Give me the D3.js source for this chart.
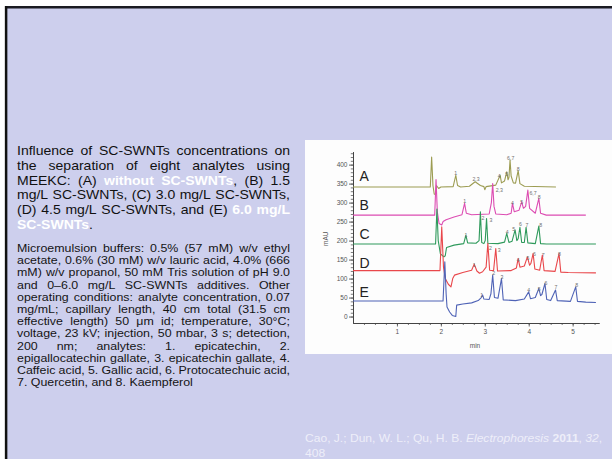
<!DOCTYPE html>
<html>
<head>
<meta charset="utf-8">
<script src="https://cdn.jsdelivr.net/npm/d3@7"></script>
<style>
  body { margin: 0; background: #fff; }
  svg { display: block; }
  text { font-family: "Liberation Sans", Arial, sans-serif; }
</style>
</head>
<body>
<svg id="slide" width="612" height="459"></svg>
<script>
//Chromatogram traces, [time (min), signal (mAU)]
const traceA = [[0,341],[1.76,341],[1.79,420],[1.82,345],[1.85,322],[1.88,322],[1.90,345],[1.95,337],[2.0,341],[2.28,342],[2.34,372],[2.38,345],[2.45,341],[2.65,343],[2.78,355],[2.9,345],[2.98,342],[3.0,334],[3.03,342],[3.25,346],[3.35,372],[3.38,352],[3.45,357],[3.5,381],[3.53,360],[3.55,366],[3.575,412],[3.6,370],[3.65,352],[3.7,351],[3.76,384],[3.8,350],[3.9,343],[4.62,341]];
const traceB = [[0,267],[1.86,267],[1.89,361],[1.92,275],[1.96,245],[2.02,241],[2.05,250],[2.12,255],[2.3,262],[2.48,268],[2.54,298],[2.58,272],[2.7,268],[3.1,270],[3.15,300],[3.18,350],[3.21,290],[3.25,270],[3.5,268],[3.6,272],[3.63,298],[3.67,276],[3.78,280],[3.84,302],[3.88,285],[3.93,290],[3.98,333],[4.02,285],[4.15,272],[4.23,311],[4.27,272],[4.4,267],[5.3,267]];
const traceC = [[0,191],[1.88,191],[1.91,283],[1.94,200],[1.99,165],[2.07,157],[2.10,160],[2.13,182],[2.3,188],[2.52,192],[2.57,214],[2.61,194],[2.8,193],[2.87,200],[2.9,276],[2.93,195],[2.98,192],[3.01,200],[3.04,258],[3.07,193],[3.3,192],[3.45,196],[3.5,219],[3.55,195],[3.62,198],[3.69,228],[3.73,200],[3.76,205],[3.80,235],[3.84,195],[3.9,195],[3.94,235],[3.98,194],[4.15,192],[4.23,238],[4.27,192],[4.4,191],[5.53,191]];
const traceD = [[0,121],[1.98,121],[2.02,236],[2.06,130],[2.10,100],[2.17,85],[2.23,78],[2.27,100],[2.31,109],[2.5,116],[2.7,122],[2.76,138],[2.82,120],[2.88,114],[2.95,118],[3.03,130],[3.07,193],[3.11,122],[3.2,121],[3.25,179],[3.29,120],[3.6,121],[3.72,128],[3.76,153],[3.8,130],[3.9,133],[3.97,157],[4.02,135],[4.05,140],[4.10,166],[4.14,125],[4.25,122],[4.31,162],[4.35,121],[4.6,119],[4.69,166],[4.73,117],[4.9,116],[5.53,115]];
const traceE = [[0,41],[2.05,41],[2.09,144],[2.12,60],[2.14,25],[2.2,12],[2.26,3],[2.34,0],[2.36,30],[2.5,33],[2.7,36],[2.85,42],[2.92,50],[2.95,57],[2.98,46],[3.1,45],[3.14,60],[3.18,109],[3.22,50],[3.3,48],[3.38,100],[3.42,44],[3.7,42],[3.9,46],[4.0,65],[4.04,47],[4.15,50],[4.23,74],[4.27,55],[4.3,58],[4.37,87],[4.41,45],[4.5,42],[4.61,70],[4.65,42],[4.95,40],[5.07,78],[5.11,40],[5.3,38],[5.53,37]];

const traceNames = ["A", "B", "C", "D", "E"];
const traceNameY = [357, 280, 204, 129, 52];

//Peak numbers: [time, mAU, label]
const peaksA = [[2.34,378,"1"],[2.80,361,"2,3"],[3.33,370,"4"],[3.50,376,"5"],[3.59,416,"6,7"],[3.76,388,"8"]];
const peaksB = [[2.54,303,"1"],[3.33,333,"2,3"],[3.63,298,"4"],[3.84,302,"5"],[4.10,325,"6,7"],[4.24,314,"8"]];
const peaksC = [[2.57,214,"1"],[2.96,258,"2"],[3.14,254,"3"],[3.51,222,"4"],[3.66,229,"5"],[3.81,244,"6"],[3.96,241,"7"],[4.27,241,"8"]];
const peaksD = [[2.76,134,"1"],[3.13,179,"2"],[3.33,176,"3"],[3.76,148,"4"],[3.98,154,"5"],[4.13,165,"6"],[4.33,162,"7"],[4.70,163,"8"]];
const peaksE = [[2.93,56,"1"],[3.20,115,"2"],[3.39,104,"3"],[4.00,69,"4"],[4.24,73,"5"],[4.39,88,"6"],[4.62,77,"7"],[5.09,82,"8"]];

const xTicks = [1, 2, 3, 4, 5];
const yTicks = [0, 50, 100, 150, 200, 250, 300, 350, 400];

//Slide text, each line is a list of runs (hl = white bold)
const titleLines = [
    [{t: "Influence of SC-SWNTs concentrations on"}],
    [{t: "the separation of eight analytes using"}],
    [{t: "MEEKC: (A) "}, {t: "without SC-SWNTs", hl: true}, {t: ", (B) 1.5"}],
    [{t: "mg/L SC-SWNTs, (C) 3.0 mg/L SC-SWNTs,"}],
    [{t: "(D) 4.5 mg/L SC-SWNTs, and (E) "}, {t: "6.0 mg/L", hl: true}],
    [{t: "SC-SWNTs", hl: true}, {t: "."}]
];
const bodyLines = [
    [{t: "Microemulsion buffers: 0.5% (57 mM) w/v ethyl"}],
    [{t: "acetate, 0.6% (30 mM) w/v lauric acid, 4.0% (666"}],
    [{t: "mM) w/v propanol, 50 mM Tris solution of pH 9.0"}],
    [{t: "and 0\u20136.0 mg/L SC-SWNTs additives. Other"}],
    [{t: "operating conditions: analyte concentration, 0.07"}],
    [{t: "mg/mL; capillary length, 40 cm total (31.5 cm"}],
    [{t: "effective length) 50 \u03bcm id; temperature, 30\u00b0C;"}],
    [{t: "voltage, 23 kV; injection, 50 mbar, 3 s; detection,"}],
    [{t: "200 nm; analytes: 1. epicatechin, 2."}],
    [{t: "epigallocatechin gallate, 3. epicatechin gallate, 4."}],
    [{t: "Caffeic acid, 5. Gallic acid, 6. Protocatechuic acid,"}],
    [{t: "7. Quercetin, and 8. Kaempferol"}]
];
const citation = [
    {t: "Cao, J.; Dun, W. L.; Qu, H. B. "},
    {t: "Electrophoresis", it: true},
    {t: " "},
    {t: "2011", b: true},
    {t: ", "},
    {t: "32", it: true},
    {t: ","}
];
const citationTail = "408";

const traceColors = ["#9c9c52", "#dc4cb2", "#2f9a5c", "#e9474b", "#4f63b6"];

const svg = d3.select("#slide");

//Slide background with the dark frame on top and left
svg.append("rect").attr("x", 5).attr("y", 6).attr("width", 607).attr("height", 453).attr("fill", "#cdcfed");
svg.append("line").attr("x1", 5).attr("x2", 612).attr("y1", 7.2).attr("y2", 7.2).attr("stroke", "#1b1b22").attr("stroke-width", 2.5);
svg.append("line").attr("x1", 6.1).attr("x2", 6.1).attr("y1", 6).attr("y2", 459).attr("stroke", "#111").attr("stroke-width", 2.5);

//Justified text block (the slide text is a bit wider than Arial, so each line is stretched by sx)
function justifyLines(g, lines, opt) {
    const w = opt.width / opt.sx;
    lines.forEach(function(runs, li) {
        const lg = g.append("g")
            .attr("transform", "translate(" + opt.x0 + "," + (opt.y0 + li * opt.lh) + ")scale(" + opt.sx + ",1)");
        const words = [];
        let cur = [];
        runs.forEach(function(r) {
            r.t.split(" ").forEach(function(p, pi) {
                if (pi > 0) { if (cur.length) words.push(cur); cur = []; }
                if (p.length) cur.push({t: p, hl: r.hl});
            });
        });
        if (cur.length) words.push(cur);

        const nodes = words.map(function(wd) {
            const tx = lg.append("text").attr("font-size", opt.size).attr("fill", opt.color);
            wd.forEach(function(p) {
                tx.append("tspan").text(p.t)
                    .attr("font-weight", p.hl ? "bold" : null)
                    .attr("fill", p.hl ? "#ffffff" : null);
            });
            return tx;
        });
        const widths = nodes.map(function(n) { return n.node().getComputedTextLength(); });
        const last = li === lines.length - 1;
        const gap = (last || words.length < 2) ? opt.size * 0.278 : (w - d3.sum(widths)) / (words.length - 1);
        let x = 0;
        nodes.forEach(function(n, i) { n.attr("x", x); x += widths[i] + gap; });
    });
}

const textG = svg.append("g");
justifyLines(textG, titleLines, {x0: 17, width: 273, y0: 155, lh: 14.8, size: 12.2, sx: 1.15, color: "#111"});
justifyLines(textG, bodyLines, {x0: 17, width: 273, y0: 252, lh: 12.2, size: 10.7, sx: 1.16, color: "#151515"});

//Citation
const citeG = svg.append("g").attr("transform", "translate(305,442)scale(1.05,1)");
const cite = citeG.append("text").attr("font-size", 11.5).attr("fill", "#eeeef9");
citation.forEach(function(c) {
    cite.append("tspan").text(c.t)
        .attr("font-style", c.it ? "italic" : null)
        .attr("font-weight", c.b ? "bold" : null);
});
citeG.append("text").attr("y", 15).attr("font-size", 11.5).attr("fill", "#eeeef9").text(citationTail);

//Chart panel
svg.append("rect").attr("x", 305).attr("y", 140).attr("width", 307).attr("height", 214).attr("fill", "#fdfdfd");

const x = d3.scaleLinear().domain([0, 5.6]).range([353, 599]);
const y = d3.scaleLinear().domain([-17, 434]).range([323, 151.7]);

const axisColor = "#444";

//Y axis minor and major ticks
svg.append("g").attr("transform", "translate(353,0)")
    .call(d3.axisLeft(y).tickValues(d3.range(0, 431, 10)).tickSize(2.2).tickSizeOuter(0).tickFormat(""))
    .call(function(g) { g.selectAll("line").attr("stroke", axisColor).attr("stroke-width", 0.7); g.select(".domain").attr("stroke", axisColor); });
svg.append("g").attr("transform", "translate(353,0)")
    .call(d3.axisLeft(y).tickValues(yTicks).tickSize(4).tickSizeOuter(0).tickPadding(1.5))
    .call(function(g) {
        g.select(".domain").attr("stroke", axisColor);
        g.selectAll("line").attr("stroke", axisColor).attr("stroke-width", 0.8);
        g.selectAll("text").attr("font-size", 6.5).attr("fill", "#555").attr("font-family", "Liberation Sans, Arial, sans-serif");
    });

//X axis minor and major ticks
svg.append("g").attr("transform", "translate(0,323)")
    .call(d3.axisBottom(x).tickValues(d3.range(0.25, 5.51, 0.25)).tickSize(2).tickSizeOuter(0).tickFormat(""))
    .call(function(g) { g.selectAll("line").attr("stroke", axisColor).attr("stroke-width", 0.7); g.select(".domain").attr("stroke", axisColor); });
svg.append("g").attr("transform", "translate(0,323)")
    .call(d3.axisBottom(x).tickValues(xTicks).tickSize(3.5).tickSizeOuter(0).tickPadding(3).tickFormat(d3.format("d")))
    .call(function(g) {
        g.select(".domain").attr("stroke", axisColor);
        g.selectAll("line").attr("stroke", axisColor).attr("stroke-width", 0.8);
        g.selectAll("text").attr("font-size", 6.5).attr("fill", "#555").attr("font-family", "Liberation Sans, Arial, sans-serif");
    });

svg.append("text").attr("x", 475).attr("y", 347.5).attr("text-anchor", "middle")
    .attr("font-size", 6.5).attr("fill", "#555").text("min");
svg.append("text").attr("transform", "translate(327.5," + y(205) + ")rotate(-90)").attr("text-anchor", "middle")
    .attr("font-size", 6.5).attr("fill", "#555").text("mAU");

//Traces
const line = d3.line().x(function(d) { return x(d[0]); }).y(function(d) { return y(d[1]); });
const traces = [traceA, traceB, traceC, traceD, traceE];
const peaks = [peaksA, peaksB, peaksC, peaksD, peaksE];

traces.forEach(function(tr, i) {
    svg.append("path").datum(tr)
        .attr("fill", "none")
        .attr("stroke", traceColors[i])
        .attr("stroke-width", 1.1)
        .attr("stroke-linejoin", "round")
        .attr("d", line);
});

peaks.forEach(function(pk, i) {
    svg.append("g").selectAll("text").data(pk).enter().append("text")
        .attr("x", function(d) { return x(d[0]); })
        .attr("y", function(d) { return y(d[1]); })
        .attr("text-anchor", "middle")
        .attr("dy", "0.35em")
        .attr("font-size", 5.2)
        .attr("fill", "#707070")
        .text(function(d) { return d[2]; });
});

svg.append("g").selectAll("text").data(traceNames).enter().append("text")
    .attr("x", x(0.15))
    .attr("y", function(d, i) { return y(traceNameY[i]); })
    .attr("font-size", 14)
    .attr("fill", "#222")
    .text(function(d) { return d; });
</script>
</body>
</html>
